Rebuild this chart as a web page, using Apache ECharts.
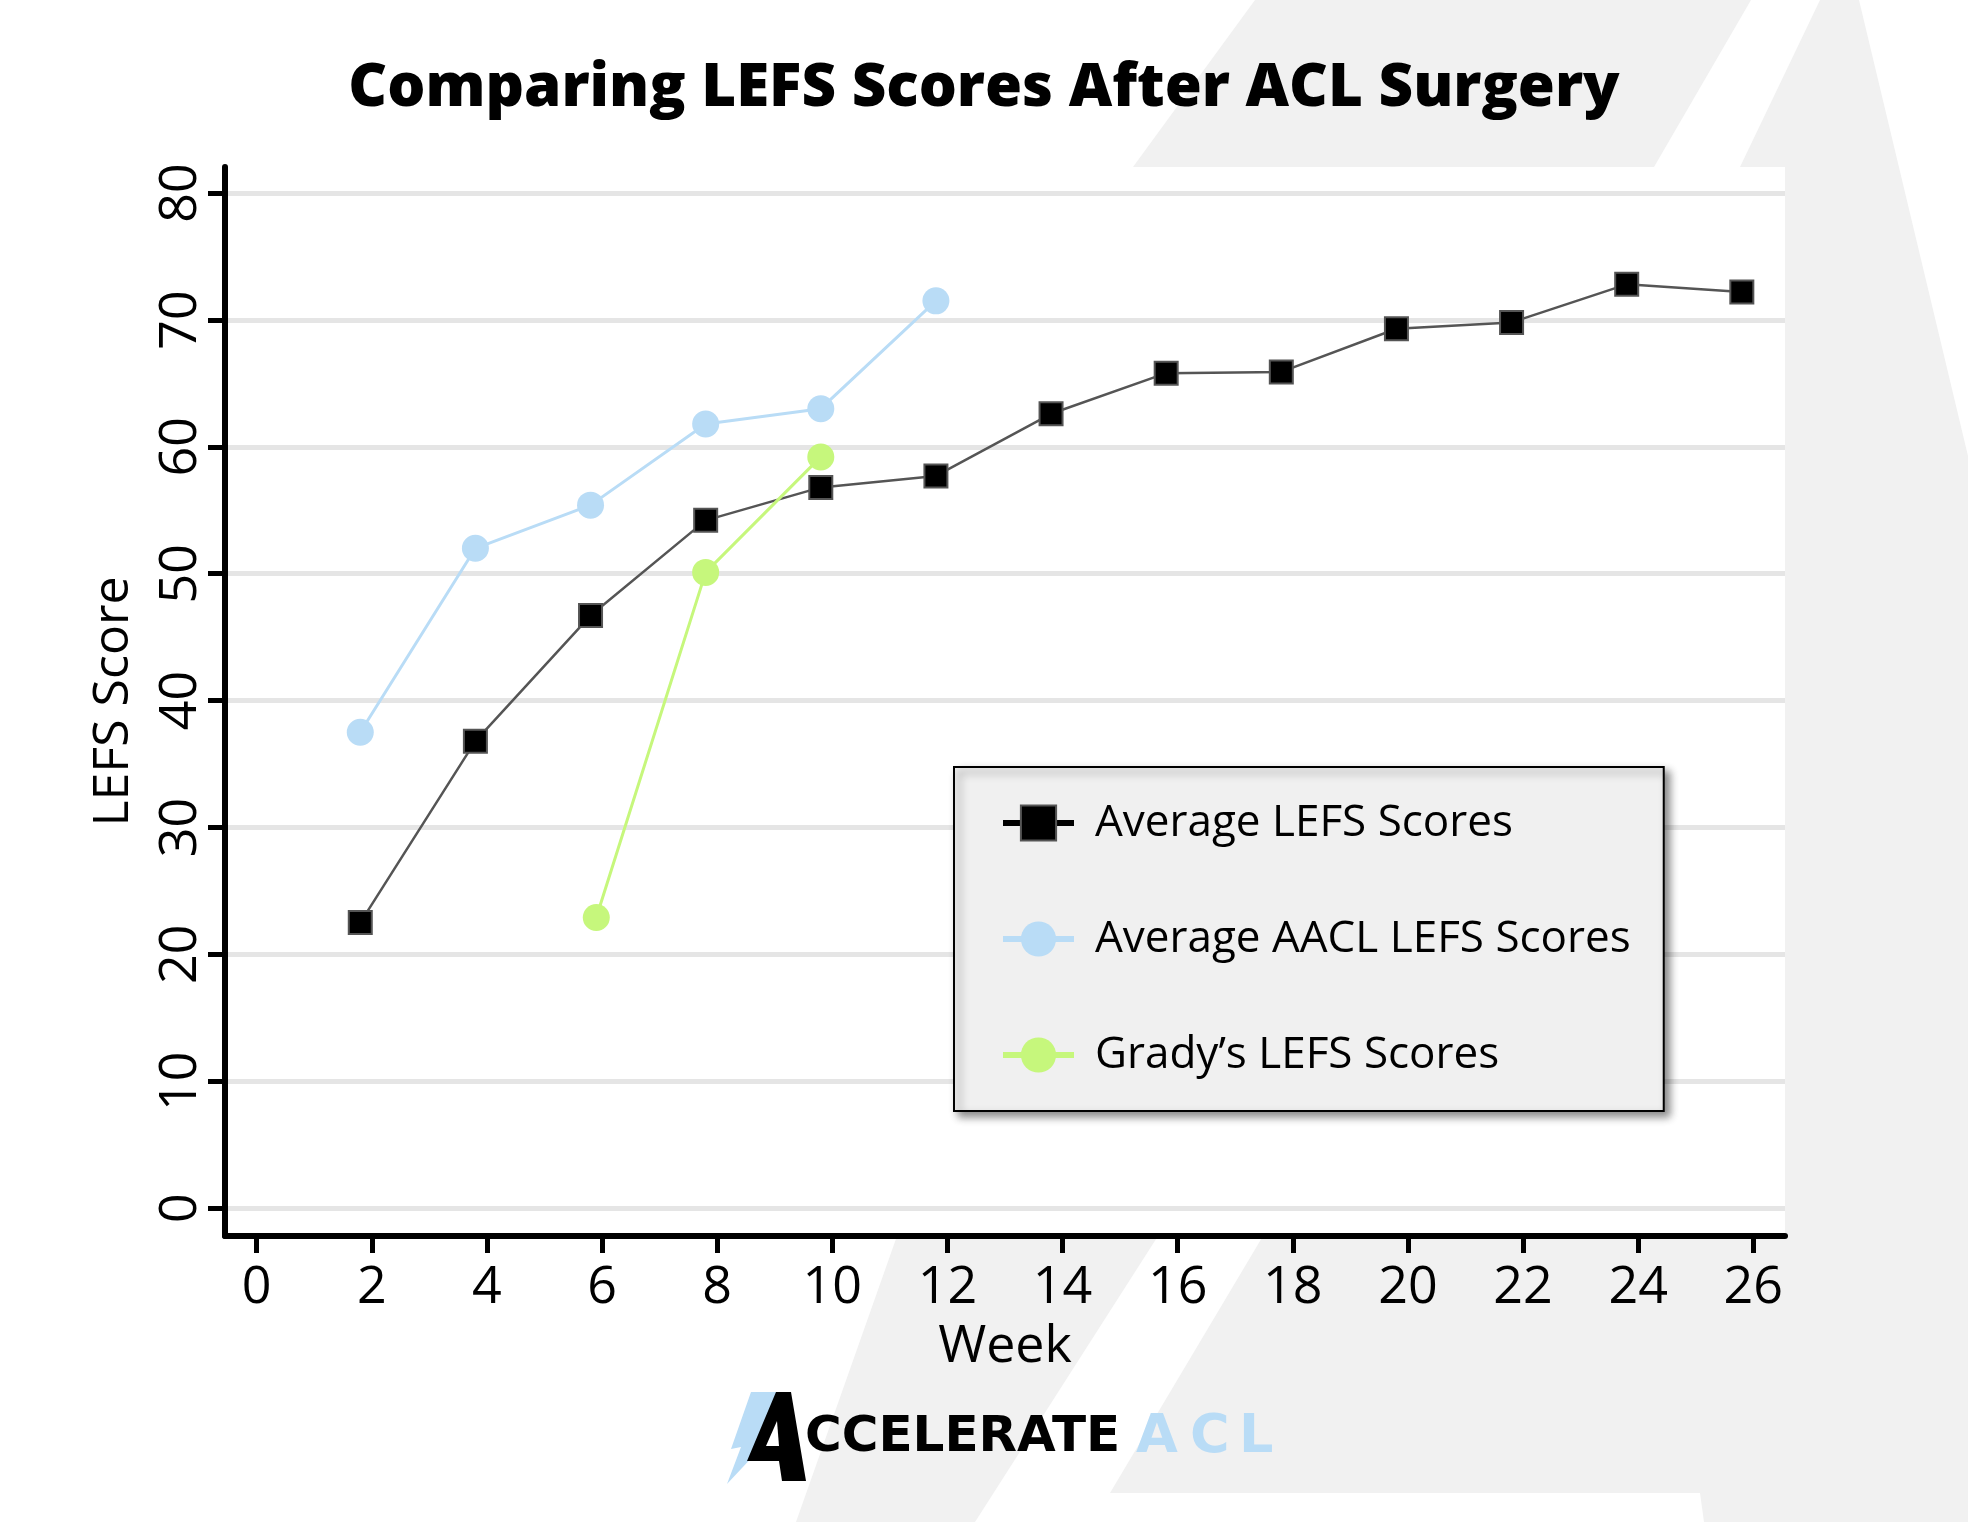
<!DOCTYPE html>
<html>
<head>
<meta charset="utf-8">
<title>Comparing LEFS Scores After ACL Surgery</title>
<script src="https://cdn.jsdelivr.net/npm/echarts@6/dist/echarts.min.js"></script>
<style>
html, body { margin: 0; padding: 0; background: #fff; }
#main { width: 1968px; height: 1522px; }
</style>
</head>
<body>
<div id="main"></div>
<script>
// tick labels
var weekTicks = [0, 2, 4, 6, 8, 10, 12, 14, 16, 18, 20, 22, 24, 26];
var scoreTicks = [0, 10, 20, 30, 40, 50, 60, 70, 80];

// series (week, score)
var avgWeeks = [1.8, 3.8, 5.8, 7.8, 9.8, 11.8, 13.8, 15.8, 17.8, 19.8, 21.8, 23.8, 25.8];
var avgScores = [22.5, 36.8, 46.7, 54.2, 56.8, 57.7, 62.6, 65.8, 65.9, 69.3, 69.8, 72.8, 72.2];
var aaclWeeks = [1.8, 3.8, 5.8, 7.8, 9.8, 11.8];
var aaclScores = [37.5, 52.0, 55.4, 61.8, 63.0, 71.5];
var gradyWeeks = [5.9, 7.8, 9.8];
var gradyScores = [22.9, 50.1, 59.2];

var seriesNames = ['Average LEFS Scores', 'Average AACL LEFS Scores', 'Grady\u2019s LEFS Scores'];

var FONT = 'Open Sans';
var LOGO_FONT = 'bold 50px "DejaVu Sans"';
var LIGHT = '#f1f1f1';
var BLUE = '#b9dcf6';
var GREEN = '#c6f77c';

function pairs(xs, ys) {
	var out = [];
	for (var i = 0; i < xs.length; i++) out.push([xs[i], ys[i]]);
	return out;
}

var mainChart = echarts.init(document.getElementById('main'));

var chartOpt = {
	animation: false,
	backgroundColor: '#fff',
	title: {
		text: 'Comparing LEFS Scores After ACL Surgery',
		left: 'center',
		top: 54,
		textStyle: { fontFamily: FONT, fontWeight: 800, fontSize: 60, color: '#000' }
	},
	grid: {
		left: 225, right: 183, top: 167, bottom: 286,
		show: true, backgroundColor: '#fff', borderWidth: 0,
		outerBoundsMode: 'none'
	},
	legend: {
		orient: 'vertical',
		left: 954,
		top: 767,
		padding: [31, 33, 31, 46],
		itemWidth: 71,
		itemHeight: 44,
		itemGap: 66,
		backgroundColor: '#f0f0f0',
		borderColor: '#000',
		borderWidth: 2,
		shadowBlur: 8,
		shadowColor: 'rgba(0,0,0,0.45)',
		shadowOffsetX: 5,
		shadowOffsetY: 5,
		textStyle: { fontFamily: FONT, fontSize: 44, color: '#000', lineHeight: 50, padding: [0, 0, 0, 16] },
		data: [
			{ name: seriesNames[0], lineStyle: { width: 6, color: '#000' } },
			{ name: seriesNames[1], lineStyle: { width: 6 } },
			{ name: seriesNames[2], lineStyle: { width: 6 } }
		]
	},
	xAxis: {
		type: 'value',
		min: -0.55,
		max: 26.55,
		name: 'Week',
		nameLocation: 'middle',
		nameGap: 85,
		nameTextStyle: { fontFamily: FONT, fontSize: 52, color: '#000' },
		axisLine: { show: true, onZero: false, lineStyle: { color: '#000', width: 6 } },
		axisTick: { show: true, length: 17, lineStyle: { color: '#000', width: 5 }, customValues: weekTicks },
		axisLabel: { margin: 26, fontFamily: FONT, fontSize: 52, color: '#000', customValues: weekTicks },
		splitLine: { show: false }
	},
	yAxis: {
		type: 'value',
		min: -2.2,
		max: 82.05,
		name: 'LEFS Score',
		nameLocation: 'middle',
		nameGap: 86,
		nameRotate: 90,
		nameTextStyle: { fontFamily: FONT, fontSize: 50, color: '#000' },
		axisLine: { show: true, onZero: false, lineStyle: { color: '#000', width: 6 } },
		axisTick: { show: true, length: 17, lineStyle: { color: '#000', width: 5 }, customValues: scoreTicks },
		axisLabel: { rotate: 90, margin: 18, fontFamily: FONT, fontSize: 52, color: '#000', customValues: scoreTicks },
		splitLine: { show: true, lineStyle: { color: '#e5e5e5', width: 5 } }
	},
	series: [
		{
			name: seriesNames[0],
			type: 'line',
			data: pairs(avgWeeks, avgScores),
			symbol: 'rect',
			symbolSize: 23,
			lineStyle: { color: '#555', width: 2.5 },
			itemStyle: { color: '#000', borderColor: '#555', borderWidth: 2 },
			emphasis: { disabled: true },
			z: 3
		},
		{
			name: seriesNames[1],
			type: 'line',
			data: pairs(aaclWeeks, aaclScores),
			symbol: 'circle',
			symbolSize: 27,
			lineStyle: { color: BLUE, width: 3 },
			itemStyle: { color: BLUE },
			emphasis: { disabled: true },
			z: 4
		},
		{
			name: seriesNames[2],
			type: 'line',
			data: pairs(gradyWeeks, gradyScores),
			symbol: 'circle',
			symbolSize: 27,
			lineStyle: { color: GREEN, width: 3 },
			itemStyle: { color: GREEN },
			emphasis: { disabled: true },
			z: 5
		}
	],
	graphic: [
		// watermark "A" behind everything
		{ type: 'polygon', z: -10, silent: true,
			shape: { points: [[1255, 0], [1751, 0], [1654, 167], [1158, 1236], [975, 1522], [796, 1522], [897, 1236], [1133, 167]] },
			style: { fill: LIGHT } },
		{ type: 'polygon', z: -10, silent: true,
			shape: { points: [[1820, 0], [1859, 0], [1968, 456], [1968, 1522], [1704, 1522], [1700, 1493], [1110, 1493], [1263, 1236], [1740, 167]] },
			style: { fill: LIGHT } },
		// logo
		{ type: 'polygon', z: 10, silent: true,
			shape: { points: [[751, 1392], [780, 1392], [762, 1438], [771, 1437], [727, 1484], [741, 1447], [731, 1449]] },
			style: { fill: BLUE } },
		{ type: 'polygon', z: 11, silent: true,
			shape: { points: [[776, 1392], [791, 1392], [806, 1481], [782, 1481], [779, 1461], [747, 1461]] },
			style: { fill: '#000' } },
		{ type: 'polygon', z: 12, silent: true,
			shape: { points: [[777, 1421], [779, 1446], [766, 1446]] },
			style: { fill: '#fff' } },
		{ type: 'text', z: 11, silent: true, x: 805, y: 1438,
			style: { text: 'CCELERATE', fill: '#000', font: LOGO_FONT, verticalAlign: 'middle' } },
		{ type: 'text', z: 11, silent: true, x: 1136, y: 1438,
			style: { text: 'A', fill: BLUE, font: 'bold 54px "DejaVu Sans"', verticalAlign: 'middle' } },
		{ type: 'text', z: 11, silent: true, x: 1190, y: 1438,
			style: { text: 'C', fill: BLUE, font: 'bold 54px "DejaVu Sans"', verticalAlign: 'middle' } },
		{ type: 'text', z: 11, silent: true, x: 1239, y: 1438,
			style: { text: 'L', fill: BLUE, font: 'bold 54px "DejaVu Sans"', verticalAlign: 'middle' } }
	]
};

mainChart.setOption(chartOpt);
</script>
</body>
</html>
